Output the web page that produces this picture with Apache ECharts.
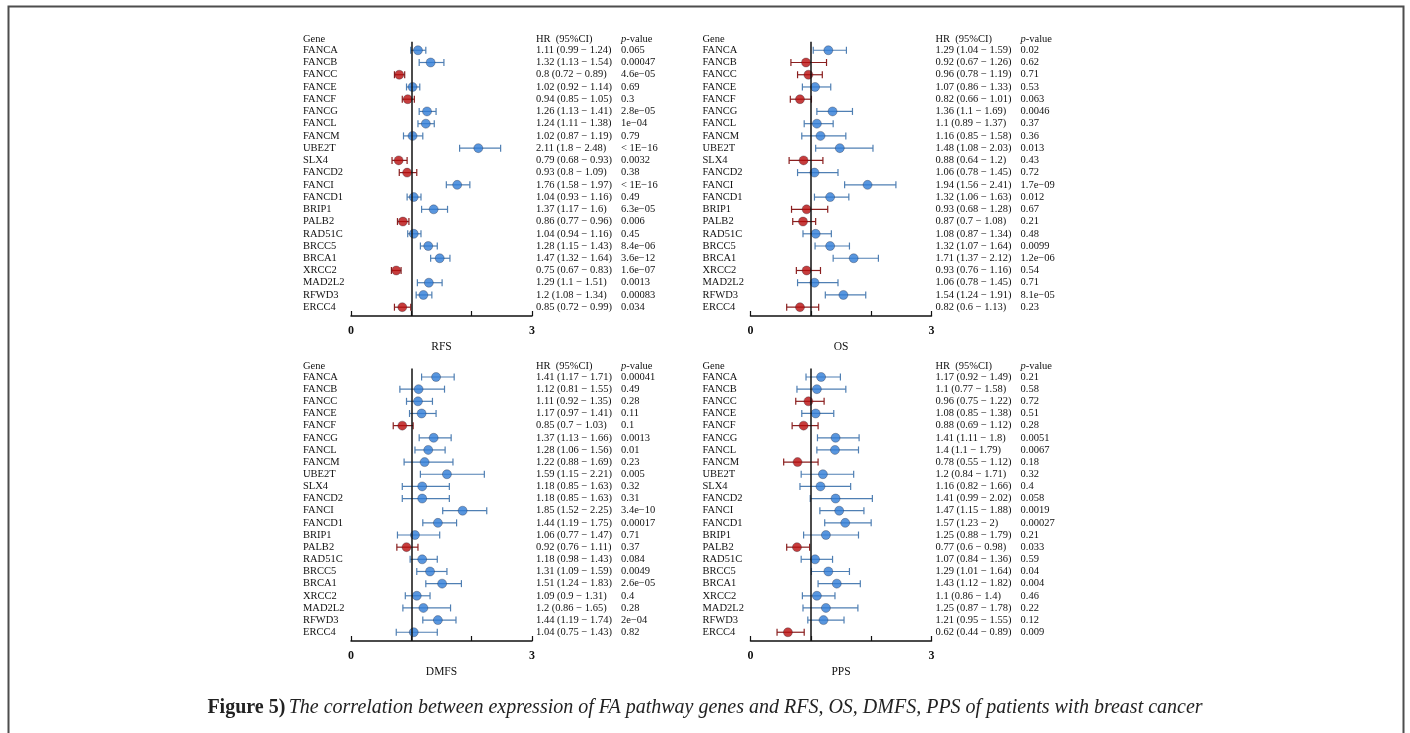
<!DOCTYPE html>
<html><head><meta charset="utf-8">
<script src="https://cdn.jsdelivr.net/npm/echarts@6/dist/echarts.min.js"></script>
<style>html,body{margin:0;padding:0;background:#fff;}#c{width:1410px;height:733px;}</style>
</head><body><div id="c"></div><script>
// ---------------- data ----------------
const genes = ['FANCA','FANCB','FANCC','FANCE','FANCF','FANCG','FANCL','FANCM','UBE2T','SLX4','FANCD2','FANCI','FANCD1','BRIP1','PALB2','RAD51C','BRCC5','BRCA1','XRCC2','MAD2L2','RFWD3','ERCC4'];

const rfsHR   = [1.11,1.32,0.8,1.02,0.94,1.26,1.24,1.02,2.11,0.79,0.93,1.76,1.04,1.37,0.86,1.04,1.28,1.47,0.75,1.29,1.2,0.85];
const rfsLow  = [0.99,1.13,0.72,0.92,0.85,1.13,1.11,0.87,1.8,0.68,0.8,1.58,0.93,1.17,0.77,0.94,1.15,1.32,0.67,1.1,1.08,0.72];
const rfsHigh = [1.24,1.54,0.89,1.14,1.05,1.41,1.38,1.19,2.48,0.93,1.09,1.97,1.16,1.6,0.96,1.16,1.43,1.64,0.83,1.51,1.34,0.99];
const rfsP    = ['0.065','0.00047','4.6e-05','0.69','0.3','2.8e-05','1e-04','0.79','< 1E-16','0.0032','0.38','< 1E-16','0.49','6.3e-05','0.006','0.45','8.4e-06','3.6e-12','1.6e-07','0.0013','0.00083','0.034'];

const osHR    = [1.29,0.92,0.96,1.07,0.82,1.36,1.1,1.16,1.48,0.88,1.06,1.94,1.32,0.93,0.87,1.08,1.32,1.71,0.93,1.06,1.54,0.82];
const osLow   = [1.04,0.67,0.78,0.86,0.66,1.1,0.89,0.85,1.08,0.64,0.78,1.56,1.06,0.68,0.7,0.87,1.07,1.37,0.76,0.78,1.24,0.6];
const osHigh  = [1.59,1.26,1.19,1.33,1.01,1.69,1.37,1.58,2.03,1.2,1.45,2.41,1.63,1.28,1.08,1.34,1.64,2.12,1.16,1.45,1.91,1.13];
const osP     = ['0.02','0.62','0.71','0.53','0.063','0.0046','0.37','0.36','0.013','0.43','0.72','1.7e-09','0.012','0.67','0.21','0.48','0.0099','1.2e-06','0.54','0.71','8.1e-05','0.23'];

const dmfsHR   = [1.41,1.12,1.11,1.17,0.85,1.37,1.28,1.22,1.59,1.18,1.18,1.85,1.44,1.06,0.92,1.18,1.31,1.51,1.09,1.2,1.44,1.04];
const dmfsLow  = [1.17,0.81,0.92,0.97,0.7,1.13,1.06,0.88,1.15,0.85,0.85,1.52,1.19,0.77,0.76,0.98,1.09,1.24,0.9,0.86,1.19,0.75];
const dmfsHigh = [1.71,1.55,1.35,1.41,1.03,1.66,1.56,1.69,2.21,1.63,1.63,2.25,1.75,1.47,1.11,1.43,1.59,1.83,1.31,1.65,1.74,1.43];
const dmfsP    = ['0.00041','0.49','0.28','0.11','0.1','0.0013','0.01','0.23','0.005','0.32','0.31','3.4e-10','0.00017','0.71','0.37','0.084','0.0049','2.6e-05','0.4','0.28','2e-04','0.82'];

const ppsHR   = [1.17,1.1,0.96,1.08,0.88,1.41,1.4,0.78,1.2,1.16,1.41,1.47,1.57,1.25,0.77,1.07,1.29,1.43,1.1,1.25,1.21,0.62];
const ppsLow  = [0.92,0.77,0.75,0.85,0.69,1.11,1.1,0.55,0.84,0.82,0.99,1.15,1.23,0.88,0.6,0.84,1.01,1.12,0.86,0.87,0.95,0.44];
const ppsHigh = [1.49,1.58,1.22,1.38,1.12,1.8,1.79,1.12,1.71,1.66,2.02,1.88,2,1.79,0.98,1.36,1.64,1.82,1.4,1.78,1.55,0.89];
const ppsP    = ['0.21','0.58','0.72','0.51','0.28','0.0051','0.0067','0.18','0.32','0.4','0.058','0.0019','0.00027','0.21','0.033','0.59','0.04','0.004','0.46','0.22','0.12','0.009'];

const panelTitles = ['RFS','OS','DMFS','PPS'];
const labeledTicks = [0, 3];
const captionBold = 'Figure 5)';
const captionText = 'The correlation between expression of FA pathway genes and RFS, OS, DMFS, PPS of patients with breast cancer';

// ---------------- styling / layout ----------------
const FONT = '"Liberation Serif", "Times New Roman", serif';
const BLUE = '#2f7cd6', BLUE_EDGE = '#1f5a9e', BLUE_BAR = '#4f7fb3';
const RED = '#b80c0c', RED_EDGE = '#7a0000', RED_BAR = '#8a1f1f';
const TXT = '#111';

const panelData = [
  [rfsHR, rfsLow, rfsHigh, rfsP],
  [osHR, osLow, osHigh, osP],
  [dmfsHR, dmfsLow, dmfsHigh, dmfsP],
  [ppsHR, ppsLow, ppsHigh, ppsP]
];
const gridPos = [
  {left: 351, top: 41.7, width: 181, height: 274.3},
  {left: 750.5, top: 41.7, width: 181, height: 274.3},
  {left: 351, top: 368.5, width: 181, height: 272.5},
  {left: 750.5, top: 368.5, width: 181, height: 272.5}
];
const yMin = -0.7, yMax = 21.72;

const fmtNum = v => String(v);
const fixMinus = s => s.replace(/-/g, '\u2212');

const grids = [], xAxes = [], yAxes = [], series = [];
panelData.forEach((pd, k) => {
  const [hr, lo, hi, pv] = pd;
  grids.push(gridPos[k]);
  xAxes.push({
    gridIndex: k, type: 'value', min: 0, max: 3, interval: 1,
    axisLine: {show: true, onZero: false, lineStyle: {color: TXT, width: 1.5}},
    axisTick: {show: true, inside: true, length: 5, lineStyle: {color: TXT, width: 1.2}},
    axisLabel: {formatter: v => labeledTicks.includes(v) ? String(v) : '', fontFamily: FONT, fontWeight: 'bold', fontSize: 12, color: TXT, margin: 9},
    splitLine: {show: false},
    name: panelTitles[k], nameLocation: 'middle', nameGap: 25,
    nameTextStyle: {fontFamily: FONT, fontSize: 11.5, color: TXT}
  });
  yAxes.push({gridIndex: k, type: 'value', min: yMin, max: yMax, inverse: true, show: false});

  // error bars + reference line
  series.push({
    type: 'custom', xAxisIndex: k, yAxisIndex: k, clip: false, z: 2,
    data: genes.map((g, i) => [lo[i], hi[i], i, hr[i]]),
    encode: {x: [0, 1], y: 2},
    renderItem: (params, api) => {
      const a = api.coord([api.value(0), api.value(2)]);
      const b = api.coord([api.value(1), api.value(2)]);
      const col = api.value(3) < 1 ? RED_BAR : BLUE_BAR;
      const h = 3.5, st = {stroke: col, lineWidth: 1.2};
      return {type: 'group', children: [
        {type: 'line', shape: {x1: a[0], y1: a[1], x2: b[0], y2: b[1]}, style: st},
        {type: 'line', shape: {x1: a[0], y1: a[1] - h, x2: a[0], y2: a[1] + h}, style: st},
        {type: 'line', shape: {x1: b[0], y1: b[1] - h, x2: b[0], y2: b[1] + h}, style: st}
      ]};
    },
    markLine: {silent: true, symbol: 'none', label: {show: false},
      lineStyle: {color: TXT, width: 1.5, type: 'solid'}, data: [{xAxis: 1}]}
  });

  // points
  series.push({
    type: 'scatter', xAxisIndex: k, yAxisIndex: k, z: 3, symbolSize: 9,
    data: genes.map((g, i) => [hr[i], i]),
    itemStyle: {
      color: p => p.value[0] < 1 ? RED : BLUE,
      borderColor: '#223', borderWidth: 0.4
    }
  });

  // text columns
  series.push({
    type: 'custom', xAxisIndex: k, yAxisIndex: k, clip: false, z: 4, silent: true,
    data: genes.map((g, i) => [0, i]),
    encode: {x: 0, y: 1},
    renderItem: (params, api) => {
      const i = params.dataIndex;
      const p0 = api.coord([0, i]);
      const p3 = api.coord([3, i]);
      const base = {fill: TXT, fontFamily: FONT, fontSize: 10.5, align: 'left', verticalAlign: 'middle'};
      const kids = [
        {type: 'text', style: Object.assign({}, base, {x: p0[0] - 48, y: p0[1], text: genes[i]})},
        {type: 'text', style: Object.assign({}, base, {x: p3[0] + 4, y: p3[1], text: fixMinus(fmtNum(hr[i]) + ' (' + fmtNum(lo[i]) + ' - ' + fmtNum(hi[i]) + ')')})},
        {type: 'text', style: Object.assign({}, base, {x: p3[0] + 89, y: p3[1], text: fixMinus(pv[i])})}
      ];
      if (i === 0) {
        const hy = p0[1] - 10.6;
        kids.push(
          {type: 'text', style: Object.assign({}, base, {x: p0[0] - 48, y: hy, text: 'Gene'})},
          {type: 'text', style: Object.assign({}, base, {x: p3[0] + 4, y: hy, text: 'HR\u2002(95%CI)'})},
          {type: 'text', style: Object.assign({}, base, {x: p3[0] + 89, y: hy, text: '{i|p}-value',
            rich: {i: {fontStyle: 'italic', fontFamily: FONT, fontSize: 10.5, fill: TXT}}})}
        );
      }
      return {type: 'group', children: kids};
    }
  });
});

const chart = echarts.init(document.getElementById('c'), null, {renderer: 'canvas'});
chart.setOption({
  backgroundColor: '#fff',
  animation: false,
  grid: grids, xAxis: xAxes, yAxis: yAxes, series: series,
  graphic: [
    {type: 'rect', left: 6, top: 4, silent: true,
      shape: {x: 0, y: 0, width: 1395, height: 760},
      style: {fill: 'none', stroke: '#4d4d4d', lineWidth: 2}},
    {type: 'text', left: 'center', top: 698, silent: true,
      style: {
        text: '{b|' + captionBold + '} {i|' + captionText + '}',
        fill: '#222',
        rich: {
          b: {fontFamily: FONT, fontWeight: 'bold', fontSize: 20, fill: '#222'},
          i: {fontFamily: FONT, fontStyle: 'italic', fontSize: 20, fill: '#222'}
        }
      }}
  ]
});
</script></body></html>
